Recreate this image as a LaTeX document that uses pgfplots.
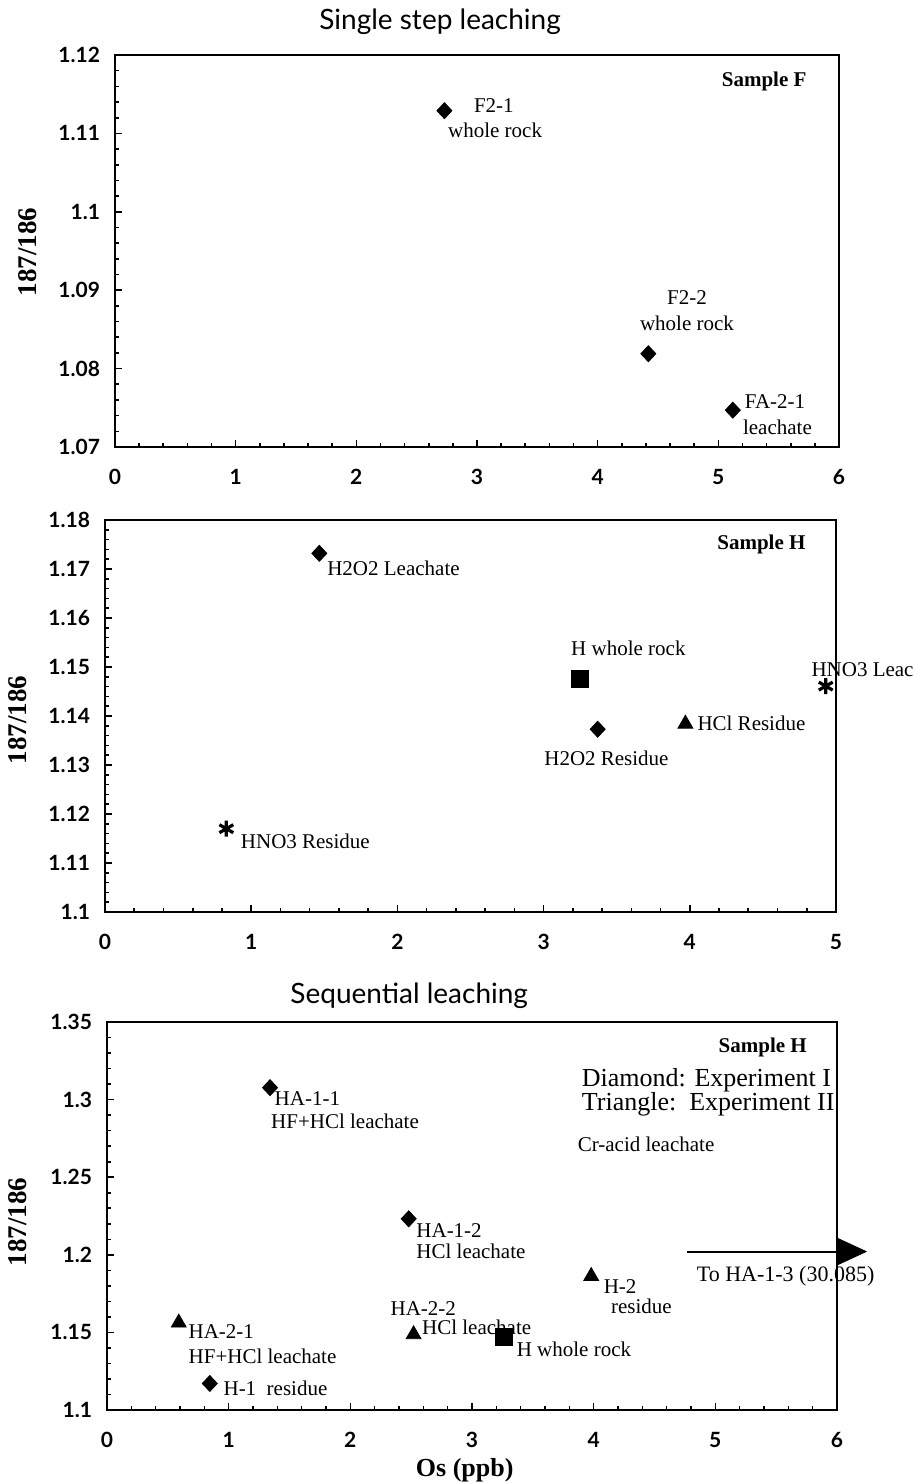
\documentclass[border=0pt]{standalone}
\usepackage{fontspec}
\setmainfont{Liberation Serif}
\newfontfamily\ticksf{Lato}
\usepackage{pgfplots}
\pgfplotsset{compat=1.18}

\tikzset{lbl/.style={font=\fontsize{10.5}{12}\selectfont, inner sep=0pt},
         smp/.style={font=\bfseries\fontsize{10.5}{12}\selectfont, inner sep=0pt}}

\pgfplotsset{
  panel/.style={
    scale only axis, clip=false, anchor=south west,
    axis line style={line width=1.4pt},
    tick align=inside, tick pos=left,
    major tick length=3.5pt, minor tick length=2pt,
    tick style={line width=0.8pt, black},
    minor x tick num=4, minor y tick num=4,
    tick label style={font=\ticksf\bfseries\fontsize{10.5}{12}\selectfont},
    /pgf/number format/assume math mode=true,
    xticklabel style={yshift=-7.5pt},
    yticklabel style={xshift=-4pt, /pgf/number format/fixed, /pgf/number format/precision=2},
    ylabel={187/186},
    every axis title shift=0pt,
    title style={font=\ticksf\fontsize{14}{16}\selectfont, anchor=center},
  },
  dia/.style={only marks, mark=diamond*, mark size=4pt, mark options={xscale=1.25}, black},
  tri/.style={only marks, mark=triangle*, mark size=4.3pt, black},
  sqr/.style={only marks, mark=square*, mark size=4.3pt, black},
  ast/.style={only marks, mark=asterisk, mark size=4pt, black, line width=1.6pt},
}

\begin{document}
\begin{tikzpicture}
\useasboundingbox (0,0) rectangle (456.5pt,-741.5pt);

% single step, sample F
\begin{axis}[panel, at={(57.5pt,-223.5pt)}, width=362pt, height=196pt,
  xmin=0, xmax=6, ymin=1.07, ymax=1.12,
  xtick={0,1,2,3,4,5,6}, ytick={1.07,1.08,1.09,1.1,1.11,1.12},
  title={Single step leaching}, title style={at={(axis description cs:0.449,1.084)}},
  ylabel style={font=\bfseries\fontsize{13.5}{15}\selectfont, at={(axis description cs:-0.12,0.497)}, anchor=center}]
\addplot[dia] coordinates {(2.73,1.1129) (4.42,1.0819) (5.12,1.0747)};
\node[smp] at (axis cs:5.38,1.1166) {Sample F};
\node[lbl] at (axis cs:3.14,1.1136) {F2-1};
\node[lbl] at (axis cs:3.15,1.1104) {whole rock};
\node[lbl] at (axis cs:4.74,1.0891) {F2-2};
\node[lbl] at (axis cs:4.74,1.0858) {whole rock};
\node[lbl] at (axis cs:5.47,1.0758) {FA-2-1};
\node[lbl] at (axis cs:5.49,1.0725) {leachate};
\end{axis}

% single step, sample H
\begin{axis}[panel, at={(52.5pt,-456pt)}, width=365.5pt, height=196pt,
  xmin=0, xmax=5, ymin=1.1, ymax=1.18,
  xtick={0,1,2,3,4,5}, ytick={1.1,1.11,1.12,1.13,1.14,1.15,1.16,1.17,1.18},
  ylabel style={font=\bfseries\fontsize{13.5}{15}\selectfont, at={(axis description cs:-0.119,0.49)}, anchor=center}]
\addplot[dia] coordinates {(1.466,1.1732) (3.37,1.1373)};
\addplot[sqr] coordinates {(3.247,1.1475)};
\addplot[tri] coordinates {(3.97,1.1384)};
\addplot[ast] coordinates {(4.93,1.1461) (0.83,1.117)};
\node[smp] at (axis cs:4.49,1.175) {Sample H};
\node[lbl, anchor=west] at (axis cs:1.518,1.1701) {H2O2 Leachate};
\node[lbl] at (axis cs:3.58,1.1538) {H whole rock};
\node[lbl, anchor=west] at (axis cs:4.83,1.1494) {HNO3 Leac};
\node[lbl, anchor=west] at (axis cs:4.05,1.1386) {HCl Residue};
\node[lbl] at (axis cs:3.43,1.1314) {H2O2 Residue};
\node[lbl, anchor=west] at (axis cs:0.927,1.1144) {HNO3 Residue};
\end{axis}

% sequential leaching
\begin{axis}[panel, at={(53.5pt,-705pt)}, width=365pt, height=194pt,
  xmin=0, xmax=6, ymin=1.1, ymax=1.35,
  xtick={0,1,2,3,4,5,6}, ytick={1.1,1.15,1.2,1.25,1.3,1.35},
  title={Sequential leaching}, title style={at={(axis description cs:0.414,1.067)}},
  xlabel={Os (ppb)},
  xlabel style={font=\bfseries\fontsize{13}{15}\selectfont, at={(axis description cs:0.49,-0.155)}, anchor=center},
  ylabel style={font=\bfseries\fontsize{13.5}{15}\selectfont, at={(axis description cs:-0.123,0.485)}, anchor=center}]
\addplot[dia] coordinates {(1.34,1.3077) (2.48,1.2232) (0.845,1.1171)};
\addplot[tri] coordinates {(0.59,1.1562) (2.52,1.1487) (3.98,1.1862)};
\addplot[sqr] coordinates {(3.26,1.1471)};
\addplot[black, line width=1pt] coordinates {(4.77,1.2021) (6.0,1.2021)};
\addplot[black, fill=black] coordinates {(6.0,1.2108) (6.24,1.2021) (6.0,1.1934)} -- cycle;
\node[smp] at (axis cs:5.39,1.3336) {Sample H};
\node[anchor=west, inner sep=0pt, font=\fontsize{13}{15}\selectfont] at (axis cs:3.90,1.3127) {Diamond: Experiment I};
\node[anchor=west, inner sep=0pt, font=\fontsize{13}{15}\selectfont] at (axis cs:3.90,1.2967) {Triangle:\ \ Experiment II};
\node[lbl, anchor=west] at (axis cs:3.866,1.271) {Cr-acid leachate};
\node[lbl, anchor=west] at (axis cs:1.375,1.3007) {HA-1-1};
\node[lbl, anchor=west] at (axis cs:1.346,1.2857) {HF+HCl leachate};
\node[lbl, anchor=west] at (axis cs:2.54,1.2156) {HA-1-2};
\node[lbl, anchor=west] at (axis cs:2.54,1.2024) {HCl leachate};
\node[lbl, anchor=west, font=\fontsize{11}{13}\selectfont] at (axis cs:4.845,1.186) {To HA-1-3 (30.085)};
\node[lbl, anchor=west] at (axis cs:4.08,1.1797) {H-2};
\node[lbl, anchor=west] at (axis cs:4.14,1.1665) {residue};
\node[lbl] at (axis cs:2.60,1.1651) {HA-2-2};
\node[lbl, anchor=west] at (axis cs:2.587,1.153) {HCl leachate};
\node[lbl, anchor=west] at (axis cs:3.365,1.1388) {H whole rock};
\node[lbl, anchor=west] at (axis cs:0.668,1.1504) {HA-2-1};
\node[lbl, anchor=west] at (axis cs:0.668,1.1344) {HF+HCl leachate};
\node[lbl, anchor=west] at (axis cs:0.955,1.1143) {H-1\ \ residue};
\end{axis}
\end{tikzpicture}
\end{document}
